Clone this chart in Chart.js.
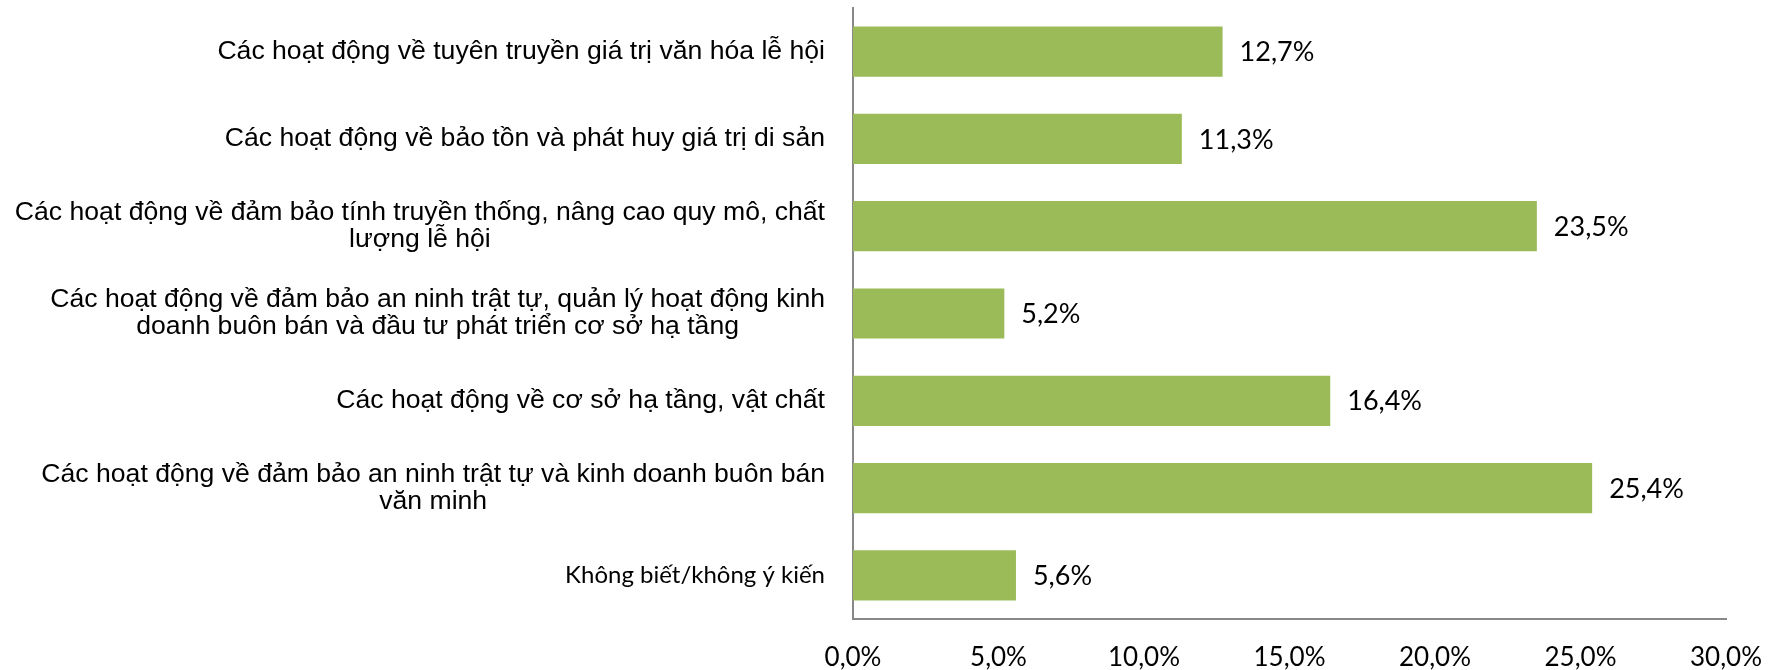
<!DOCTYPE html>
<html>
<head>
<meta charset="utf-8">
<script src="https://cdn.jsdelivr.net/npm/chart.js@4.4.1/dist/chart.umd.min.js"></script>
<style>
    body { margin: 0; background: #fff; }
    #wrap { width: 1778px; height: 670px; position: relative; }
</style>
</head>
<body>
<div id="wrap"><canvas id="chartHoatDong"></canvas></div>
<script>
// Data
const danhMuc = [
    ['Các hoạt động về tuyên truyền giá trị văn hóa lễ hội'],
    ['Các hoạt động về bảo tồn và phát huy giá trị di sản'],
    ['Các hoạt động về đảm bảo tính truyền thống, nâng cao quy mô, chất', 'lượng lễ hội'],
    ['Các hoạt động về đảm bảo an ninh trật tự, quản lý hoạt động kinh', 'doanh buôn bán và đầu tư phát triển cơ sở hạ tầng'],
    ['Các hoạt động về cơ sở hạ tầng, vật chất'],
    ['Các hoạt động về đảm bảo an ninh trật tự và kinh doanh buôn bán', 'văn minh'],
    ['Không biết/không ý kiến']
];
const tyLe = [12.7, 11.3, 23.5, 5.2, 16.4, 25.4, 5.6];
const mocTruc = [0, 5, 10, 15, 20, 25, 30];

const FONT_ARIAL = '"Liberation Sans", Arial, sans-serif';
const FONT_CALIBRI = 'Lato, "Open Sans", sans-serif';

function fmtPhanTram(v, decimals) {
    return v.toFixed(decimals).replace('.', ',') + '%';
}

// Ve nhan danh muc ben trai: can phai theo khoi, cac dong can giua
const nhanDanhMuc = {
    id: 'nhanDanhMuc',
    afterDraw(chart) {
        const ctx = chart.ctx;
        const y = chart.scales.y;
        const right = chart.chartArea.left - 28;
        ctx.save();
        ctx.fillStyle = '#000';
        ctx.textBaseline = 'middle';
        ctx.textAlign = 'center';
        danhMuc.forEach((lines, i) => {
            const laKhac = i === danhMuc.length - 1;
            ctx.font = laKhac ? '24px ' + FONT_CALIBRI : '26.6px ' + FONT_ARIAL;
            const lh = 27;
            const w = Math.max(...lines.map(l => ctx.measureText(l).width));
            const cx = right - w / 2;
            const cy = y.getPixelForValue(i);
            const y0 = cy - (lines.length - 1) * lh / 2;
            lines.forEach((l, k) => ctx.fillText(l, cx, y0 + k * lh));
        });
        ctx.restore();
    }
};

// Ve gia tri o cuoi moi thanh
const nhanGiaTri = {
    id: 'nhanGiaTri',
    afterDatasetsDraw(chart) {
        const ctx = chart.ctx;
        const meta = chart.getDatasetMeta(0);
        ctx.save();
        ctx.fillStyle = '#000';
        ctx.font = '27px ' + FONT_CALIBRI;
        ctx.textBaseline = 'middle';
        ctx.textAlign = 'left';
        meta.data.forEach((bar, i) => {
            ctx.fillText(fmtPhanTram(tyLe[i], 1), bar.x + 17, bar.y + 1);
        });
        ctx.restore();
    }
};

function veBieuDo() {
    const ctx = document.getElementById('chartHoatDong');
    new Chart(ctx, {
        type: 'bar',
        data: {
            labels: danhMuc,
            datasets: [{
                data: tyLe,
                backgroundColor: '#9BBB59',
                borderWidth: 0,
                categoryPercentage: 1,
                barPercentage: 0.575
            }]
        },
        options: {
            indexAxis: 'y',
            responsive: true,
            maintainAspectRatio: false,
            animation: false,
            layout: { padding: { top: 8, right: 52, left: 0, bottom: 0 } },
            plugins: { legend: { display: false }, tooltip: { enabled: false } },
            scales: {
                x: {
                    min: mocTruc[0],
                    max: mocTruc[mocTruc.length - 1],
                    afterBuildTicks: s => { s.ticks = mocTruc.map(v => ({ value: v })); },
                    grid: { display: false, drawTicks: false },
                    border: { display: true, color: '#888888', width: 2 },
                    ticks: {
                        color: '#000',
                        padding: 23,
                        font: { family: FONT_CALIBRI, size: 26 },
                        maxRotation: 0,
                        callback: v => fmtPhanTram(v, 1)
                    },
                    afterFit: s => {
                        s.height = 51;
                        s.paddingLeft = 0;
                        s.paddingRight = 0;
                    }
                },
                y: {
                    grid: { display: false, drawTicks: false },
                    border: { display: true, color: '#888888', width: 2 },
                    ticks: { display: false },
                    afterFit: s => { s.width = 853; }
                }
            }
        },
        plugins: [nhanDanhMuc, nhanGiaTri]
    });
}

veBieuDo();
</script>
</body>
</html>
